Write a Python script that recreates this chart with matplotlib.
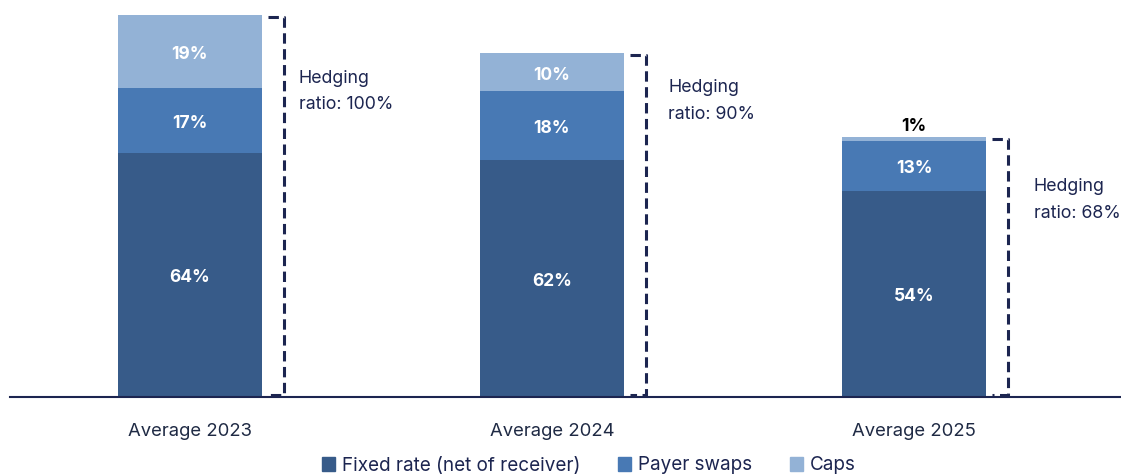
import matplotlib.pyplot as plt
import matplotlib.patches as mpatches

plt.rcParams['font.family'] = ['Inter', 'DejaVu Sans']

categories = ["Average 2023", "Average 2024", "Average 2025"]
fixed = [64, 62, 54]
payer = [17, 18, 13]
caps = [19, 10, 1]
hedging = [100, 90, 68]
series_names = ["Fixed rate (net of receiver)", "Payer swaps", "Caps"]

colors = ["#375b89", "#4879b4", "#93b2d6"]
navy = "#1c2550"
# how far below the bracket top each annotation sits (in % units)
note_drop = [20, 12.5, 16.5]
note_shift = [0.04, 0.06, 0.07]

fig = plt.figure(figsize=(11.21, 4.75), dpi=100)
ax = fig.add_axes([10 / 1121, 78 / 475, 1115 / 1121, 382 / 475])

x = list(range(len(categories)))
width = 0.398
bottoms = [0] * len(x)
for vals, col in zip([fixed, payer, caps], colors):
    ax.bar(x, vals, width, bottom=bottoms, color=col, edgecolor="none")
    for i, v in enumerate(vals):
        if v >= 5:
            ax.text(x[i], bottoms[i] + v / 2 - 0.8, f"{v}%", ha="center", va="center",
                    color="white", fontsize=12.5, fontweight="bold")
        else:
            ax.text(x[i], bottoms[i] + v + 0.6, f"{v}%", ha="center", va="bottom",
                    color="black", fontsize=12.5, fontweight="bold")
    bottoms = [b + v for b, v in zip(bottoms, vals)]

# dashed brackets showing hedging ratio
for i, h in enumerate(hedging):
    x0 = x[i] + width / 2 + 0.017
    x1 = x[i] + width / 2 + 0.062
    ax.plot([x0, x1, x1, x0], [h - 0.4, h - 0.4, 0.5, 0.5], color=navy, lw=2.2,
            linestyle=(0, (3.4, 1.8)), clip_on=False, solid_capstyle="butt")
    ax.text(x1 + note_shift[i], h - note_drop[i], f"Hedging\nratio: {h}%", ha="left",
            va="center", color=navy, fontsize=12.8, linespacing=1.75)

ax.set_xlim(-0.497, 2.583)
ax.set_ylim(0, 100)
ax.set_xticks(x)
ax.set_xticklabels(categories, fontsize=13.3, color="#1f2a44")
ax.tick_params(axis="x", length=0, pad=19)
ax.set_yticks([])
for s in ["top", "right", "left"]:
    ax.spines[s].set_visible(False)
ax.spines["bottom"].set_color(navy)
ax.spines["bottom"].set_linewidth(1.5)

handles = [mpatches.Patch(color=c, label=n) for c, n in zip(colors, series_names)]
leg = fig.legend(handles=handles, loc="center", bbox_to_anchor=(0.525, 0.02), ncol=3,
                 frameon=False, fontsize=13.6, handlelength=0.7, handleheight=0.7,
                 handletextpad=0.35, columnspacing=2.0)
for t in leg.get_texts():
    t.set_color(navy)

fig.savefig("out.png", dpi=100)
